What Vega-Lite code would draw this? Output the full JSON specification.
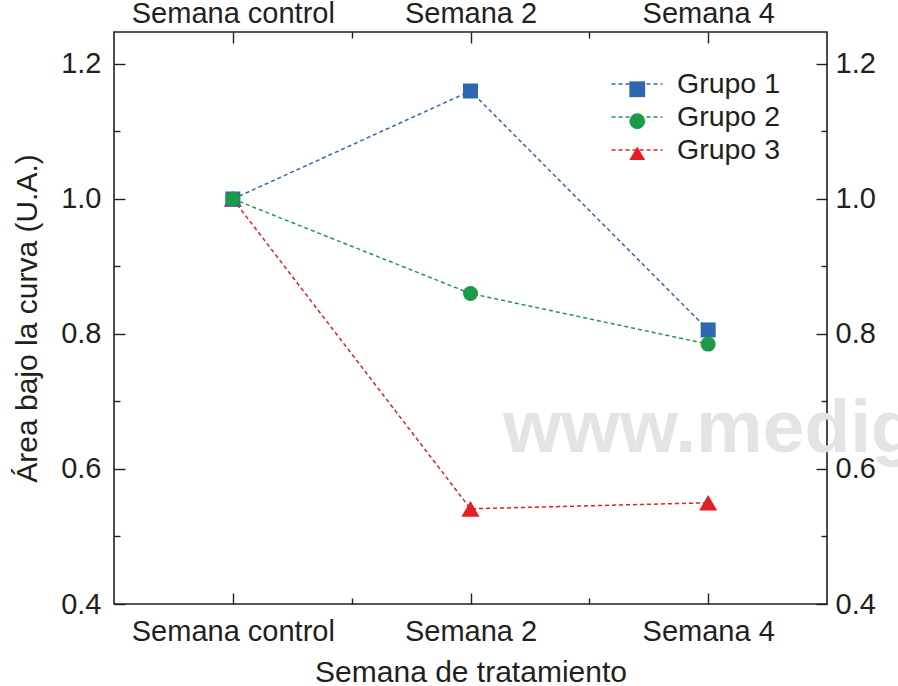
{
  "$schema": "https://vega.github.io/schema/vega-lite/v6.json",
  "width": 713,
  "height": 572,
  "autosize": {"type": "none"},
  "padding": {"left": 114, "top": 32, "right": 71, "bottom": 82},
  "background": "white",
  "config": {
    "font": "Liberation Sans",
    "view": {"stroke": "#231f20", "strokeWidth": 1.6},
    "axis": {
      "domain": false,
      "grid": false,
      "labelColor": "#231f20",
      "titleColor": "#231f20",
      "tickColor": "#231f20",
      "tickWidth": 1.4,
      "labelFontSize": 29,
      "labelLimit": 0,
      "titleFontSize": 30,
      "titleFontWeight": "normal",
      "labelFont": "Liberation Sans",
      "titleFont": "Liberation Sans"
    },
    "legend": {"labelFont": "Liberation Sans", "labelColor": "#231f20", "labelLimit": 0}
  },
  "data": {
    "values": [
      {"grupo": "Grupo 3", "semana": 0, "area": 1.0},
      {"grupo": "Grupo 1", "semana": 0, "area": 1.0},
      {"grupo": "Grupo 2", "semana": 0, "area": 1.0},
      {"grupo": "Grupo 1", "semana": 2, "area": 1.16},
      {"grupo": "Grupo 2", "semana": 2, "area": 0.86},
      {"grupo": "Grupo 3", "semana": 2, "area": 0.541},
      {"grupo": "Grupo 1", "semana": 4, "area": 0.806},
      {"grupo": "Grupo 2", "semana": 4, "area": 0.785},
      {"grupo": "Grupo 3", "semana": 4, "area": 0.55}
    ]
  },
  "layer": [
    {
      "data": {"values": [{"marca": "www.medig"}]},
      "mark": {"type": "text", "align": "left", "baseline": "alphabetic", "font": "Liberation Sans", "fontWeight": "bold", "fontSize": 75, "color": "#e3e4e6"},
      "encoding": {
        "x": {"datum": 2.2735, "type": "quantitative", "axis": null},
        "y": {"datum": 0.6252, "type": "quantitative", "axis": null},
        "text": {"field": "marca", "type": "nominal"}
      }
    },
    {
      "mark": {"type": "line", "strokeDash": [4, 3], "strokeWidth": 1.5},
      "encoding": {
        "x": {
          "field": "semana", "type": "quantitative",
          "scale": {"domain": [-1, 5], "nice": false, "zero": false},
          "axis": {
            "orient": "bottom",
            "values": [0, 1, 2, 3, 4],
            "labelExpr": "datum.value == 0 ? 'Semana control' : (datum.value % 2 == 0 ? 'Semana ' + datum.value : '')",
            "tickSize": {"condition": {"test": "datum.value % 2 == 1", "value": -6}, "value": -11},
            "labelPadding": 24,
            "labelFlush": false,
            "labelOverlap": false,
            "title": "Semana de tratamiento",
            "titlePadding": 6
          }
        },
        "y": {
          "field": "area", "type": "quantitative",
          "scale": {"domain": [0.4, 1.2474], "nice": false, "zero": false},
          "axis": {
            "orient": "left",
            "values": [0.4, 0.5, 0.6, 0.7, 0.8, 0.9, 1.0, 1.1, 1.2],
            "labelExpr": "round(datum.value * 10) % 2 == 0 ? format(datum.value, '.1f') : ''",
            "tickSize": {"condition": {"test": "round(datum.value * 10) % 2 == 1", "value": -6}, "value": -11},
            "labelPadding": 24,
            "labelFlush": false,
            "labelOverlap": false,
            "title": "Área bajo la curva (U.A.)",
            "titlePadding": 18
          }
        },
        "stroke": {
          "field": "grupo", "type": "nominal",
          "scale": {"range": ["#2e68b1", "#1b9a4a", "#e31e24"]},
          "legend": {
            "orient": "none",
            "legendX": 508,
            "legendY": 37,
            "title": null,
            "padding": 0,
            "symbolType": "M-1.8,0H1.8",
            "symbolSize": 800,
            "symbolStrokeWidth": 1.5,
            "symbolFillColor": "transparent",
            "symbolDash": [4, 3],
            "labelFontSize": 28.5,
            "labelOffset": 25,
            "rowPadding": 3
          }
        }
      }
    },
    {
      "mark": {"type": "point", "filled": true, "opacity": 1, "strokeWidth": 0},
      "encoding": {
        "x": {
          "field": "semana", "type": "quantitative",
          "scale": {"domain": [-1, 5], "nice": false, "zero": false},
          "axis": {
            "orient": "top",
            "values": [0, 1, 2, 3, 4],
            "labelExpr": "datum.value == 0 ? 'Semana control' : (datum.value % 2 == 0 ? 'Semana ' + datum.value : '')",
            "tickSize": {"condition": {"test": "datum.value % 2 == 1", "value": -6}, "value": -11},
            "labelPadding": 21,
            "labelBaseline": "alphabetic",
            "labelFlush": false,
            "labelOverlap": false,
            "title": null
          }
        },
        "y": {
          "field": "area", "type": "quantitative",
          "scale": {"domain": [0.4, 1.2474], "nice": false, "zero": false},
          "axis": {
            "orient": "right",
            "values": [0.4, 0.5, 0.6, 0.7, 0.8, 0.9, 1.0, 1.1, 1.2],
            "labelExpr": "round(datum.value * 10) % 2 == 0 ? format(datum.value, '.1f') : ''",
            "tickSize": {"condition": {"test": "round(datum.value * 10) % 2 == 1", "value": -6}, "value": -11},
            "labelPadding": 19,
            "labelFlush": false,
            "labelOverlap": false,
            "title": null
          }
        },
        "size": {"condition": {"test": "datum.grupo == 'Grupo 3'", "value": 330}, "value": 225},
        "shape": {
          "field": "grupo", "type": "nominal",
          "scale": {"domain": ["Grupo 1", "Grupo 2", "Grupo 3"], "range": ["square", "circle", "triangle-up"]},
          "legend": {
            "orient": "none", "legendX": 509, "legendY": 43, "title": null, "padding": 0,
            "symbolSize": 250, "labelFontSize": 28.5, "labelOffset": 38, "labelExpr": "''", "rowPadding": 3
          }
        },
        "fill": {
          "field": "grupo", "type": "nominal",
          "scale": {"domain": ["Grupo 1", "Grupo 2", "Grupo 3"], "range": ["#2e68b1", "#1b9a4a", "#e31e24"]},
          "legend": {
            "orient": "none", "legendX": 509, "legendY": 43, "title": null, "padding": 0,
            "symbolSize": 250, "labelFontSize": 28.5, "labelOffset": 38, "labelExpr": "''", "rowPadding": 3
          }
        }
      }
    }
  ],
  "resolve": {"axis": {"x": "independent", "y": "independent"}}
}
